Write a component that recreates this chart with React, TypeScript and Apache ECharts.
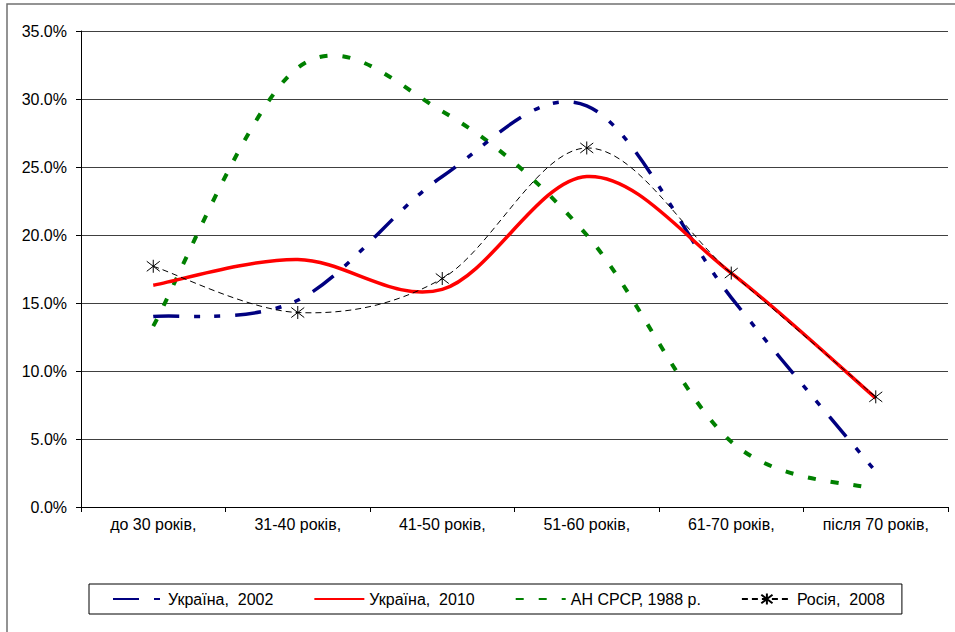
import React, { useEffect, useRef } from "react";
import * as echarts from "echarts";

const categories = ["до 30 років,", "31-40 років,", "41-50 років,", "51-60 років,", "61-70 років,", "після 70 років,"];
const ua2002 = [14.0, 15.2, 24.3, 29.5, 15.4, 2.6];
const ua2010 = [16.3, 18.2, 16.0, 24.3, 17.2, 8.0];
const ussr1988 = [13.3, 32.3, 29.1, 20.0, 4.8, 1.3];
const russia2008 = [17.7, 14.3, 16.8, 26.4, 17.2, 8.1];
const seriesNames = ["Україна,  2002", "Україна,  2010", "АН СРСР, 1988 р.", "Росія,  2008"];

const FONT = "'Liberation Sans', Arial, sans-serif";

type Style = { color: string; width: number; dash: number[] | null };
const styles: Style[] = [
  { color: "#000080", width: 3.5, dash: [26, 15, 6, 14, 6, 15] },
  { color: "#ff0000", width: 3.5, dash: null },
  { color: "#008000", width: 4, dash: [8, 15] },
  { color: "#000000", width: 1, dash: [6, 4] },
];
const allValues = [ua2002, ua2010, ussr1988, russia2008];

// Excel-like spline (Catmull-Rom) through points placed by the axis scales
function splineSeries(values: number[], st: Style, idx: number, z: number) {
  return {
    name: "spline" + idx,
    type: "custom",
    coordinateSystem: "cartesian2d",
    data: values.map((v, i) => [i, v]),
    encode: { x: 0, y: 1 },
    silent: true,
    z,
    renderItem: (params: any, api: any) => {
      if (params.dataIndex !== 0) return null;
      const pts = values.map((v, i) => api.coord([i, v]));
      let d = `M${pts[0][0]},${pts[0][1]}`;
      for (let i = 0; i < pts.length - 1; i++) {
        const p0 = pts[i - 1] || pts[i];
        const p1 = pts[i];
        const p2 = pts[i + 1];
        const p3 = pts[i + 2] || pts[i + 1];
        const c1x = p1[0] + (p2[0] - p0[0]) / 6;
        const c1y = p1[1] + (p2[1] - p0[1]) / 6;
        const c2x = p2[0] - (p3[0] - p1[0]) / 6;
        const c2y = p2[1] - (p3[1] - p1[1]) / 6;
        d += ` C${c1x},${c1y} ${c2x},${c2y} ${p2[0]},${p2[1]}`;
      }
      return {
        type: "path",
        shape: { pathData: d },
        style: {
          fill: "none",
          stroke: st.color,
          lineWidth: st.width,
          lineDash: st.dash || undefined,
        },
      };
    },
  };
}

export default function App() {
  const ref = useRef<HTMLDivElement>(null);
  useEffect(() => {
    if (!ref.current) return;
    const chart = echarts.init(ref.current, null, { renderer: "svg" });
    const lineSeries = allValues.map((vals, i) => ({
      name: seriesNames[i],
      type: "line",
      data: vals,
      smooth: false,
      showSymbol: i === 3,
      symbol: i === 3 ? "path://M0,0L10,10M10,0L0,10M5,-1.5L5,11.5" : "circle",
      symbolSize: 13,
      color: styles[i].color,
      itemStyle: { color: styles[i].color, borderColor: styles[i].color, borderWidth: 1 },
      lineStyle: {
        color: styles[i].color,
        width: styles[i].width,
        type: styles[i].dash || "solid",
        opacity: 0,
      },
      z: 6,
    }));
    chart.setOption({
      animation: false,
      backgroundColor: "#fff",
      textStyle: { fontFamily: FONT, color: "#000" },
      graphic: [
        {
          type: "rect",
          shape: { x: 7, y: 4, width: 1000, height: 700 },
          style: { fill: "none", stroke: "#707070", lineWidth: 1.5 },
          silent: true,
        },
      ],
      grid: { left: 81, right: 7, top: 31, bottom: 125 },
      xAxis: {
        type: "category",
        data: categories,
        boundaryGap: true,
        axisLine: { lineStyle: { color: "#000", width: 1 } },
        axisTick: { show: true, length: 5, lineStyle: { color: "#000" } },
        axisLabel: { fontSize: 16, color: "#000", margin: 9, fontFamily: FONT },
        splitLine: { show: false },
      },
      yAxis: {
        type: "value",
        min: 0,
        max: 35,
        interval: 5,
        axisLine: { show: true, lineStyle: { color: "#000", width: 1 } },
        axisTick: { show: true, length: 5, lineStyle: { color: "#000" } },
        axisLabel: {
          fontSize: 16,
          color: "#000",
          margin: 14,
          fontFamily: FONT,
          formatter: (v: number) => v.toFixed(1) + "%",
        },
        splitLine: { show: true, lineStyle: { color: "#404040", width: 1 } },
      },
      legend: {
        left: 89,
        top: 584,
        orient: "horizontal",
        itemWidth: 50,
        itemHeight: 14,
        itemGap: 40,
        padding: [7, 17, 7, 23],
        borderColor: "#000",
        borderWidth: 1,
        lineStyle: { opacity: 1 },
        textStyle: { fontSize: 16, color: "#000", fontFamily: FONT },
        data: seriesNames.map((n, i) => (i === 3 ? { name: n } : { name: n, itemStyle: { opacity: 0 } })),
      },
      series: [
        splineSeries(ussr1988, styles[2], 2, 2),
        splineSeries(ua2002, styles[0], 0, 3),
        splineSeries(ua2010, styles[1], 1, 4),
        splineSeries(russia2008, styles[3], 3, 5),
        ...lineSeries,
      ],
    });
    return () => chart.dispose();
  }, []);
  return <div ref={ref} style={{ position: "fixed", left: 0, top: 0, width: 955, height: 632 }} />;
}
